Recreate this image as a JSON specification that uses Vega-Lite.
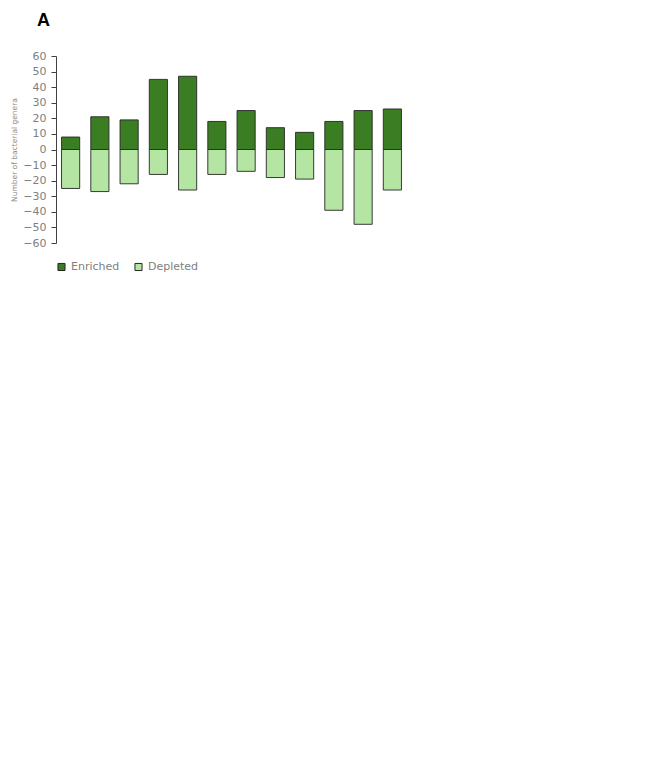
{
  "$schema": "https://vega.github.io/schema/vega-lite/v6.json",
  "padding": {"left": 10, "top": 12, "right": 0, "bottom": 0},
  "background": "white",
  "config": {"view": {"stroke": null}, "font": "DejaVu Sans"},
  "width": 351,
  "height": 187,
  "title": {"text": "A", "anchor": "start", "frame": "group", "dx": -19, "offset": 20, "fontSize": 18, "fontWeight": "bold", "font": "Liberation Sans", "color": "#000000"},
  "data": {"values": [
    {"time": "T0", "mix": "MIX1", "type": "Enriched", "value": 8},
    {"time": "T0", "mix": "MIX1", "type": "Depleted", "value": -25},
    {"time": "T0", "mix": "MIX2", "type": "Enriched", "value": 21},
    {"time": "T0", "mix": "MIX2", "type": "Depleted", "value": -27},
    {"time": "T0", "mix": "MIX3", "type": "Enriched", "value": 19},
    {"time": "T0", "mix": "MIX3", "type": "Depleted", "value": -22},
    {"time": "T1", "mix": "MIX1", "type": "Enriched", "value": 45},
    {"time": "T1", "mix": "MIX1", "type": "Depleted", "value": -16},
    {"time": "T1", "mix": "MIX2", "type": "Enriched", "value": 47},
    {"time": "T1", "mix": "MIX2", "type": "Depleted", "value": -26},
    {"time": "T1", "mix": "MIX3", "type": "Enriched", "value": 18},
    {"time": "T1", "mix": "MIX3", "type": "Depleted", "value": -16},
    {"time": "T2", "mix": "MIX1", "type": "Enriched", "value": 25},
    {"time": "T2", "mix": "MIX1", "type": "Depleted", "value": -14},
    {"time": "T2", "mix": "MIX2", "type": "Enriched", "value": 14},
    {"time": "T2", "mix": "MIX2", "type": "Depleted", "value": -18},
    {"time": "T2", "mix": "MIX3", "type": "Enriched", "value": 11},
    {"time": "T2", "mix": "MIX3", "type": "Depleted", "value": -19},
    {"time": "T4", "mix": "MIX1", "type": "Enriched", "value": 18},
    {"time": "T4", "mix": "MIX1", "type": "Depleted", "value": -39},
    {"time": "T4", "mix": "MIX2", "type": "Enriched", "value": 25},
    {"time": "T4", "mix": "MIX2", "type": "Depleted", "value": -48},
    {"time": "T4", "mix": "MIX3", "type": "Enriched", "value": 26},
    {"time": "T4", "mix": "MIX3", "type": "Depleted", "value": -26}
  ]},
  "transform": [{"calculate": "datum.time + '|' + datum.mix", "as": "key"}],
  "mark": {"type": "bar", "stroke": "#262626", "strokeWidth": 0.9},
  "encoding": {
    "x": {"field": "key", "type": "nominal", "scale": {"paddingInner": 0.38, "paddingOuter": 0.19}, "axis": null},
    "y": {"field": "value", "type": "quantitative", "stack": null, "scale": {"domain": [-60, 60], "nice": false},
      "axis": {"values": [-60, -50, -40, -30, -20, -10, 0, 10, 20, 30, 40, 50, 60], "title": "Number of bacterial genera", "titleFontSize": 7.5, "titleFontWeight": "normal", "titleColor": "#8c8c8c", "titlePadding": 4, "labelFontSize": 11, "labelColor": "#808080", "labelPadding": 5, "tickSize": 5, "tickColor": "#404040", "domainColor": "#404040", "grid": false}},
    "color": {"field": "type", "type": "nominal", "scale": {"domain": ["Enriched", "Depleted"], "range": ["#3a7d22", "#b4e5a2"]},
      "legend": {"orient": "bottom", "direction": "horizontal", "title": null, "symbolType": "square", "symbolSize": 50, "symbolStrokeColor": "#262626", "symbolStrokeWidth": 1, "labelFontSize": 11, "labelColor": "#808080", "labelOffset": 4, "columnPadding": 12}}
  }
}
